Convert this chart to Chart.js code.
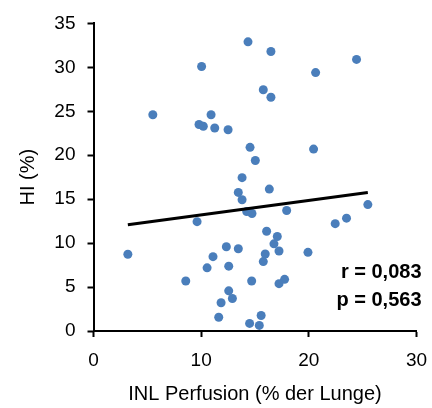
<!DOCTYPE html>
<html>
<head>
<meta charset="utf-8">
<script src="https://cdn.jsdelivr.net/npm/chart.js@4.4.1/dist/chart.umd.min.js"></script>
<style>
  html, body { margin: 0; padding: 0; background: #fff; }
  #wrap { width: 432px; height: 408px; }
</style>
</head>
<body>
<div id="wrap"><canvas id="perfChart" width="432" height="408"></canvas></div>
<script>
// INL perfusion (% of lung) per patient
const perfusion = [
    14.35, 10.04, 16.48, 24.43, 20.63, 15.77, 16.48, 5.51, 10.92, 9.8,
    10.2, 11.26, 12.5, 14.54, 20.44, 15.03, 13.8, 16.33, 13.45, 13.8,
    14.23, 14.72, 17.94, 25.48, 23.5, 22.45, 9.62, 16.08, 17.07, 16.76,
    17.23, 15.95, 19.92, 3.19, 12.34, 13.45, 11.1, 15.77, 12.56, 10.55,
    8.57, 14.69, 17.75, 17.23, 12.56, 12.9, 11.85, 11.63, 15.57, 14.5,
    15.4
];
// HI (%) for the same patients
const hiValues = [
    32.9, 30.1, 31.8, 30.9, 29.4, 27.45, 26.6, 24.6, 24.6, 23.5,
    23.3, 23.1, 22.9, 20.9, 20.7, 19.4, 17.45, 16.15, 15.77, 14.94,
    13.6, 13.37, 13.71, 14.38, 12.84, 12.21, 12.44, 11.35, 10.75, 9.92,
    9.1, 8.76, 8.95, 8.73, 9.58, 9.36, 8.46, 7.9, 7.38, 7.19,
    5.69, 5.69, 5.88, 5.39, 4.57, 3.7, 3.22, 1.57, 1.76, 0.86,
    0.64
];
// linear trend line endpoints
const trendX = [3.19, 25.48];
const trendY = [12.1, 15.76];
const statLines = ['r = 0,083', 'p = 0,563'];

const points = perfusion.map((x, i) => ({ x: x, y: hiValues[i] }));
const trend = trendX.map((x, i) => ({ x: x, y: trendY[i] }));

const FONT = '"Liberation Sans", Arial, sans-serif';

const statsLabel = {
    id: 'statsLabel',
    afterDatasetsDraw(chart) {
        const { ctx, chartArea } = chart;
        ctx.save();
        ctx.font = 'bold 20px ' + FONT;
        ctx.fillStyle = '#000';
        ctx.textAlign = 'right';
        ctx.textBaseline = 'middle';
        ctx.fillText(statLines[0], chartArea.right + 5, chartArea.bottom - 59);
        ctx.fillText(statLines[1], chartArea.right + 5, chartArea.bottom - 31);
        ctx.restore();
    }
};

new Chart(document.getElementById('perfChart'), {
    type: 'scatter',
    data: {
        datasets: [
            {
                data: trend,
                type: 'line',
                borderColor: '#000',
                borderWidth: 3,
                pointRadius: 0,
                fill: false,
                order: 0
            },
            {
                data: points,
                backgroundColor: '#4A7EBB',
                borderColor: '#4A7EBB',
                borderWidth: 0,
                pointRadius: 4.5,
                order: 1
            }
        ]
    },
    options: {
        responsive: false,
        animation: false,
        layout: { autoPadding: false, padding: { top: 20, right: 15.5, left: 0, bottom: 0 } },
        plugins: {
            legend: { display: false },
            tooltip: { enabled: false }
        },
        scales: {
            x: {
                type: 'linear',
                min: 0,
                max: 30,
                afterFit: (s) => {
                    // fixed axis band; keep the label overhang from squeezing the plot
                    s.height = 77;
                    s.paddingLeft = 0;
                    s.paddingRight = 11;
                },
                ticks: { stepSize: 10, color: '#000', padding: 12, font: { family: FONT, size: 19 } },
                grid: { drawOnChartArea: false, tickLength: 6, tickColor: '#000', tickWidth: 2 },
                border: { color: '#000', width: 2 },
                title: {
                    display: true,
                    text: 'INL Perfusion (% der Lunge)',
                    color: '#000',
                    padding: { bottom: 2 },
                    font: { family: FONT, size: 20 }
                }
            },
            y: {
                min: 0,
                max: 35,
                afterFit: (s) => { s.width = 93.5; },
                ticks: { stepSize: 5, color: '#000', padding: 12, font: { family: FONT, size: 19 } },
                grid: { drawOnChartArea: false, tickLength: 6, tickColor: '#000', tickWidth: 2 },
                border: { color: '#000', width: 2 },
                title: {
                    display: true,
                    text: 'HI (%)',
                    color: '#000',
                    padding: { top: 16 },
                    font: { family: FONT, size: 20 }
                }
            }
        }
    },
    plugins: [statsLabel]
});
</script>
</body>
</html>
